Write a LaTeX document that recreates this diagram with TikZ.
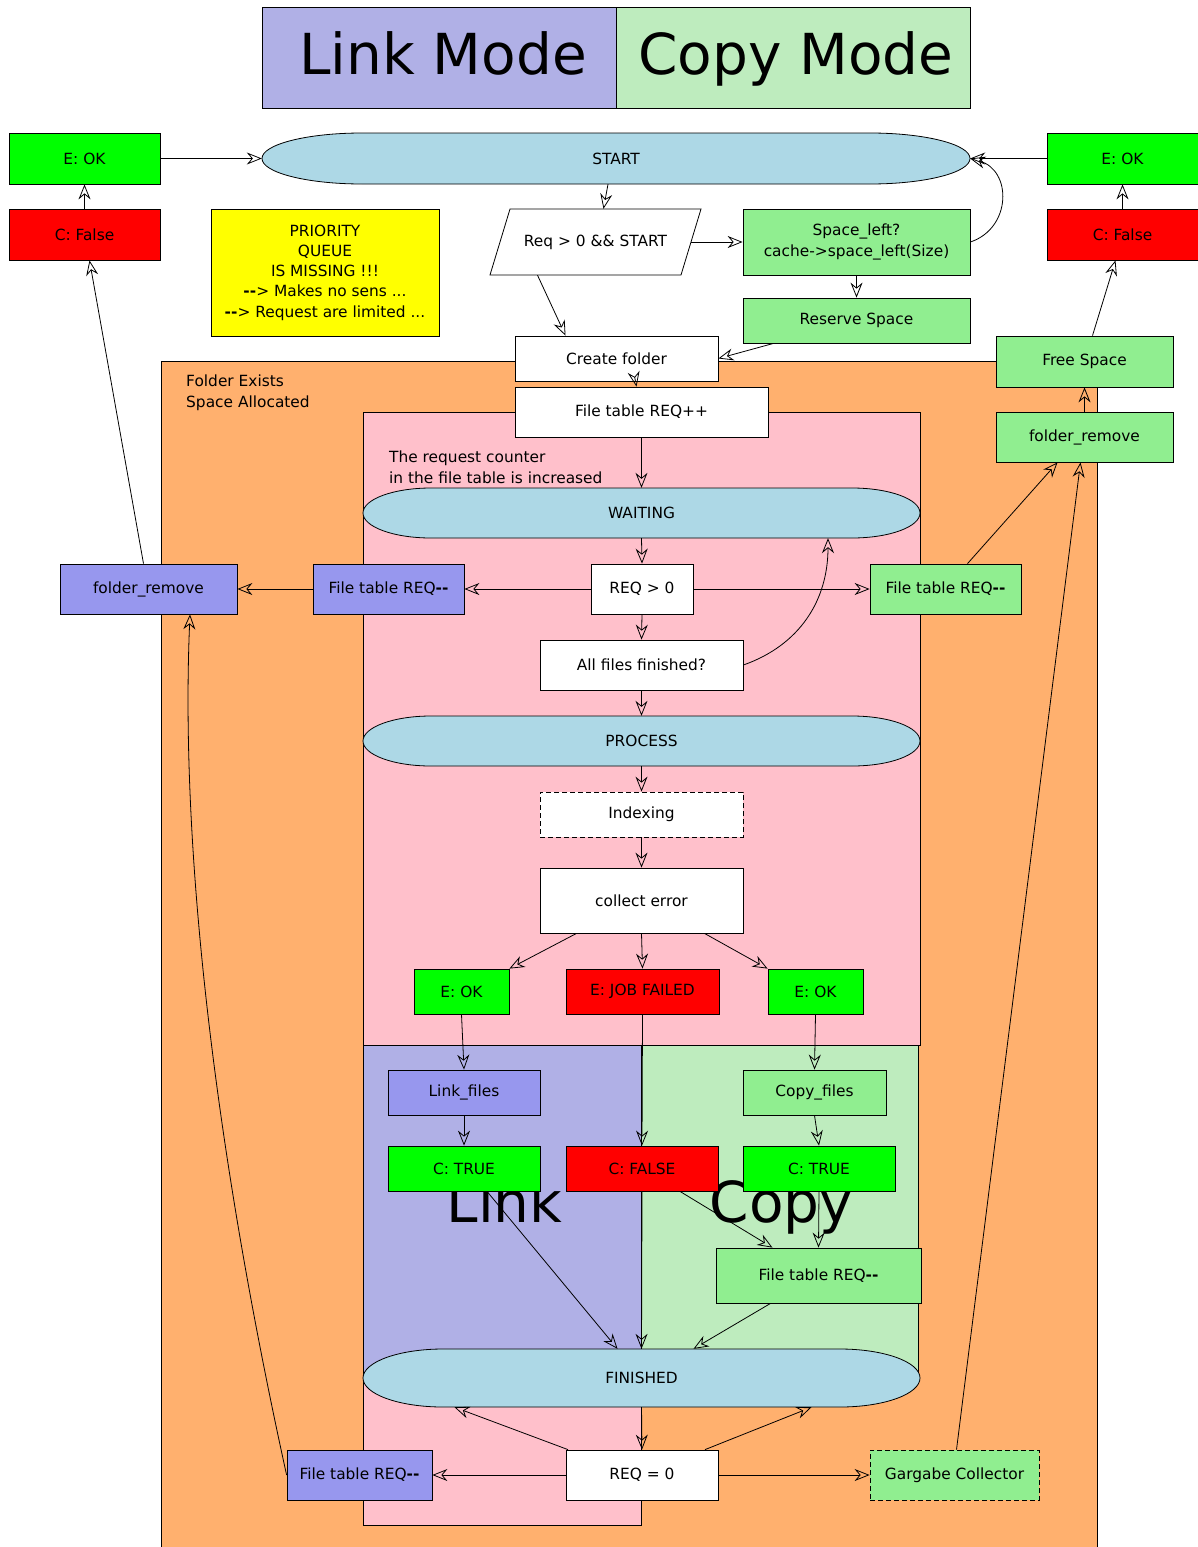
\documentclass[tikz,border=0pt]{standalone}
\usepackage{fontspec}
\setmainfont{DejaVu Sans}
\usetikzlibrary{arrows.meta,calc}

\definecolor{areaorange}{RGB}{255,176,110}
\definecolor{areapink}{RGB}{255,192,203}
\definecolor{linkarea}{RGB}{176,176,230}
\definecolor{copyarea}{RGB}{190,236,190}
\definecolor{linkbox}{RGB}{151,151,238}
\definecolor{copybox}{RGB}{144,238,144}
\definecolor{okgreen}{RGB}{0,255,0}
\definecolor{errred}{RGB}{255,0,0}
\definecolor{notey}{RGB}{255,255,0}
\definecolor{stateblue}{RGB}{173,216,230}

\newcommand{\nodefont}{\fontsize{15.4}{20.3}\selectfont}
\newcommand{\bigfont}{\fontsize{56.5}{60}\selectfont}
\newcommand{\bolddash}{{\bfseries -{}-}}

% state shape: a bar with half-elliptic ends
% #1 x1, #2 y1, #3 x2, #4 y2, #5 horizontal radius of the ends
\newcommand{\flowterm}[5]{%
  \pgfmathsetmacro\ftA{#1+#5}%
  \pgfmathsetmacro\ftB{#3-#5}%
  \pgfmathsetmacro\ftC{#1+0.4477*#5}%
  \pgfmathsetmacro\ftD{#3-0.4477*#5}%
  \pgfmathsetmacro\ftM{(#2+#4)/2}%
  \pgfmathsetmacro\ftK{0.5523*(#4-#2)/2}%
  \pgfmathsetmacro\ftU{\ftM-\ftK}%
  \pgfmathsetmacro\ftV{\ftM+\ftK}%
  \filldraw[fill=stateblue, line width=0.8pt]
    (\ftA,#2) -- (\ftB,#2)
    .. controls (\ftD,#2) and (#3,\ftU) .. (#3,\ftM)
    .. controls (#3,\ftV) and (\ftD,#4) .. (\ftB,#4)
    -- (\ftA,#4)
    .. controls (\ftC,#4) and (#1,\ftV) .. (#1,\ftM)
    .. controls (#1,\ftU) and (\ftC,#2) .. (\ftA,#2) -- cycle;
}

\begin{document}
\begin{tikzpicture}[x=1pt,y=-1pt,
  box/.style={draw=black, line width=0.8pt, inner sep=0pt, align=center, font=\nodefont},
  plainbox/.style={box, fill=white},
  okbox/.style={box, fill=okgreen},
  errbox/.style={box, fill=errred},
  linkstep/.style={box, fill=linkbox},
  copystep/.style={box, fill=copybox},
  dashbox/.style={dash pattern=on 5pt off 3pt},
  statetext/.style={inner sep=0pt, font=\nodefont},
  areatext/.style={inner sep=0pt, font=\nodefont, align=left, anchor=north west},
  headtext/.style={inner sep=0pt, font=\bigfont, anchor=base},
  conn/.style={line width=0.8pt, -{Stealth[open,length=15pt,width=12pt,inset=5pt]}},
]
\useasboundingbox (0,0) rectangle (1198,1547);

% ---------- areas ----------
\fill[areaorange] (161,361) rectangle (1097,1547);
\draw[line width=0.8pt] (161,1547) -- (161,361) -- (1097,361) -- (1097,1547);
\filldraw[fill=areapink, line width=0.8pt]
  (363,412) -- (920,412) -- (920,1045) -- (641,1045) -- (641,1525) -- (363,1525) -- cycle;
\filldraw[fill=linkarea, line width=0.8pt] (363,1045) rectangle (641,1378);
\filldraw[fill=copyarea, line width=0.8pt] (641,1045) rectangle (918,1378);

\node[areatext] (areaA) at (186,375) {Folder Exists\\Space Allocated};
\node[areatext] (areaB) at (389,451) {The request counter\\in the file table is increased};

\node[headtext] (linkword) at (504.5,1222) {Link};
\node[headtext] (copyword) at (781.5,1222) {Copy};

% ---------- header ----------
\node[box, fill=linkarea, minimum width=354, minimum height=101] (linkmode) at (439,57.5) {};
\node[box, fill=copyarea, minimum width=354, minimum height=101] (copymode) at (793,57.5) {};
\node[headtext] (linkmodetext) at (443,74) {Link Mode};
\node[headtext] (copymodetext) at (796,74) {Copy Mode};

% ---------- left and right result boxes ----------
\node[okbox, minimum width=151, minimum height=51] (okL) at (84.5,158.5) {E: OK};
\node[errbox, minimum width=151, minimum height=51] (falseL) at (84.5,234.5) {C: False};
\node[okbox, minimum width=151, minimum height=51] (okR) at (1122.5,158.5) {E: OK};
\node[errbox, minimum width=151, minimum height=51] (falseR) at (1122.5,234.5) {C: False};

\node[box, fill=notey, minimum width=228, minimum height=127] (prio) at (325,272.5)
  {PRIORITY\\QUEUE\\IS MISSING !!!\\\bolddash> Makes no sens ...\\\bolddash> Request are limited ...};

% ---------- start ----------
\flowterm{262}{133}{970}{184}{100}
\node[statetext, minimum width=708, minimum height=51] (start) at (616,158.5) {START};

\filldraw[fill=white, line width=0.8pt] (510,209) -- (701,209) -- (681,275) -- (490,275) -- cycle;
\node[statetext, minimum width=191, minimum height=66] (reqand) at (595.5,242) {Req > 0 \&\& START};

\node[copystep, minimum width=227, minimum height=66] (space) at (856.5,242) {Space\_left?\\cache->space\_left(Size)};
\node[copystep, minimum width=227, minimum height=45] (reserve) at (856.5,320.5) {Reserve Space};
\node[plainbox, minimum width=203, minimum height=45] (create) at (616.5,358.5) {Create folder};
\node[plainbox, minimum width=253, minimum height=50] (ftinc) at (641.5,412) {File table REQ++};

\node[copystep, minimum width=177, minimum height=51] (freesp) at (1084.5,361.5) {Free Space};
\node[copystep, minimum width=177, minimum height=50] (frR) at (1084.5,437) {folder\_remove};

% ---------- waiting ----------
\flowterm{363}{488}{920}{538}{68}
\node[statetext, minimum width=557, minimum height=50] (waiting) at (641.5,513) {WAITING};

\node[plainbox, minimum width=102, minimum height=50] (reqgt) at (642,589) {REQ > 0};
\node[linkstep, minimum width=151, minimum height=50] (ftL) at (388.5,589) {File table REQ\bolddash};
\node[linkstep, minimum width=177, minimum height=50] (frL) at (148.5,589) {folder\_remove};
\node[copystep, minimum width=151, minimum height=50] (ftR) at (945.5,589) {File table REQ\bolddash};
\node[plainbox, minimum width=203, minimum height=50] (allfin) at (641.5,665) {All files finished?};

% ---------- process ----------
\flowterm{363}{716}{920}{766}{68}
\node[statetext, minimum width=557, minimum height=50] (process) at (641.5,741) {PROCESS};

\node[plainbox, dashbox, minimum width=203, minimum height=45] (indexing) at (641.5,814.5) {Indexing};
\node[plainbox, minimum width=203, minimum height=65] (collect) at (641.5,900.5) {collect error};

\node[okbox, minimum width=95, minimum height=45] (okA) at (461.5,991.5) {E: OK};
\node[errbox, minimum width=153, minimum height=45] (failed) at (642.5,991.5) {E: JOB FAILED};
\node[okbox, minimum width=95, minimum height=45] (okB) at (815.5,991.5) {E: OK};

\node[linkstep, minimum width=152, minimum height=45] (linkf) at (464,1092.5) {Link\_files};
\node[okbox, minimum width=152, minimum height=45] (trueA) at (464,1168.5) {C: TRUE};
\node[errbox, minimum width=152, minimum height=45] (falseC) at (642,1168.5) {C: FALSE};
\node[copystep, minimum width=143, minimum height=45] (copyf) at (814.5,1092.5) {Copy\_files};
\node[okbox, minimum width=152, minimum height=45] (trueB) at (819,1168.5) {C: TRUE};
\node[copystep, minimum width=205, minimum height=55] (ftC) at (818.5,1275.5) {File table REQ\bolddash};

% ---------- finished ----------
\flowterm{363}{1349}{920}{1407}{80}
\node[statetext, minimum width=557, minimum height=58] (finished) at (641.5,1378) {FINISHED};

\node[plainbox, minimum width=152, minimum height=50] (reqz) at (642,1475) {REQ = 0};
\node[linkstep, minimum width=145, minimum height=50] (ftD) at (359.5,1475) {File table REQ\bolddash};
\node[copystep, dashbox, minimum width=169, minimum height=50] (gc) at (954.5,1475) {Gargabe Collector};

% ---------- connectors ----------
\draw[conn] (falseL.north) -- (okL.south);
\draw[conn] (okL.east) -- (start.west);
\draw[conn] (okR.west) -- (start.east);
\draw[conn] (falseR.north) -- (okR.south);
\draw[conn] ([xshift=-8]start.south) -- ([xshift=8]reqand.north);
\draw[conn] (reqand.east) -- (space.west);
\draw[conn] (space.east) .. controls (1012,228) and (1012,170) .. (start.east);
\draw[conn] (space.south) -- (reserve.north);
\draw[conn] ([xshift=-83]reserve.south) -- (create.east);
\draw[conn] ([xshift=-58]reqand.south) -- ([xshift=-51]create.north);
\draw[conn] ([xshift=19]create.south) -- ([xshift=-5]ftinc.north);
\draw[conn] (ftinc.south) -- (waiting.north);
\draw[conn] (waiting.south) -- (reqgt.north);
\draw[conn] (reqgt.west) -- (ftL.east);
\draw[conn] (ftL.west) -- (frL.east);
\draw[conn] ([xshift=-5]frL.north) -- ([xshift=5]falseL.south);
\draw[conn] (reqgt.east) -- (ftR.west);
\draw[conn] ([xshift=22]ftR.north) -- ([xshift=-27]frR.south);
\draw[conn] (reqgt.south) -- (allfin.north);
\draw[conn] (allfin.east) .. controls (800,645) and (828,600) .. ([xshift=186.5]waiting.south);
\draw[conn] (allfin.south) -- (process.north);
\draw[conn] (process.south) -- (indexing.north);
\draw[conn] (indexing.south) -- (collect.north);
\draw[conn] ([xshift=-65]collect.south) -- (okA.north east);
\draw[conn] (collect.south) -- (failed.north);
\draw[conn] ([xshift=63]collect.south) -- (okB.north west);
\draw[conn] (okA.south) -- (linkf.north);
\draw[conn] (linkf.south) -- (trueA.north);
\draw[conn] (failed.south) -- (falseC.north);
\draw[conn] (okB.south) -- (copyf.north);
\draw[conn] (copyf.south) -- (trueB.north);
\draw[conn] ([xshift=38]falseC.south) -- ([xshift=-46]ftC.north);
\draw[conn] (trueB.south) -- (ftC.north);
\draw[conn] ([xshift=23]trueA.south) -- ([xshift=-24]finished.north);
\draw[conn] (falseC.south) -- (finished.north);
\draw[conn] ([xshift=-48]ftC.south) -- ([xshift=52]finished.north);
\draw[conn] (finished.south) -- (reqz.north);
\draw[conn] ([xshift=-74]reqz.north) -- ([xshift=-187]finished.south);
\draw[conn] ([xshift=63]reqz.north) -- ([xshift=170]finished.south);
\draw[conn] (reqz.west) -- (ftD.east);
\draw[conn] (reqz.east) -- (gc.west);
\draw[conn] (ftD.west) .. controls (215,1150) and (180,850) .. ([xshift=41.5]frL.south);
\draw[conn] ([xshift=2]gc.north) -- ([xshift=-4]frR.south);
\draw[conn] (frR.north) -- (freesp.south);
\draw[conn] ([xshift=8]freesp.north) -- ([xshift=-7]falseR.south);
\end{tikzpicture}
\end{document}
